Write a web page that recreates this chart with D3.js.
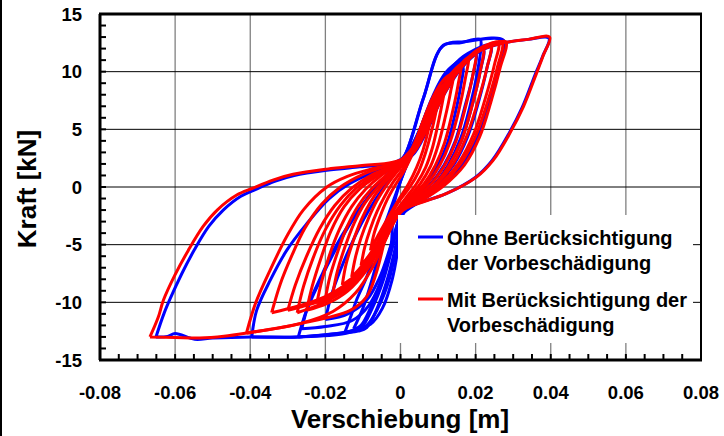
<!DOCTYPE html>
<html>
<head>
<meta charset="utf-8">
<script src="https://cdn.jsdelivr.net/npm/d3@7"></script>
<style>
  body { margin: 0; background: #fff; }
  svg { display: block; font-family: "Liberation Sans", Arial, sans-serif; font-weight: bold; }
</style>
</head>
<body>
<svg id="chart" width="724" height="436"></svg>
<script>
// axis ticks
const xTicks = [-0.08, -0.06, -0.04, -0.02, 0, 0.02, 0.04, 0.06, 0.08];
const xTickLabels = ["-0.08", "-0.06", "-0.04", "-0.02", "0", "0.02", "0.04", "0.06", "0.08"];
const yTicks = [-15, -10, -5, 0, 5, 10, 15];

// blue: ohne Berücksichtigung der Vorbeschädigung  [Verschiebung m, Kraft kN]
const blue1 = [[-0.0651,-13.0],[-0.0630,-11.0],[-0.0612,-9.6],[-0.0582,-7.5],[-0.0548,-5.4],[-0.0510,-3.4],[-0.0472,-2.0],[-0.0425,-0.8],[-0.0385,-0.2],[-0.0335,0.5],[-0.0283,1.0],[-0.0196,1.45],[-0.0108,1.75],[-0.0020,2.05],[0.0030,2.7],[0.0072,5.0],[0.0112,7.8],[0.0162,10.3],[0.0212,11.8],[0.0277,12.5],[0.0340,12.8],[0.0395,12.9],[0.0378,11.3],[0.0359,9.8],[0.0324,6.9],[0.0288,4.6],[0.0244,2.3],[0.0200,0.85],[0.0120,-0.6],[0.0032,-1.6],[-0.0015,-2.6],[-0.0025,-5.0],[-0.0050,-8.0],[-0.0080,-10.5],[-0.0105,-12.0],[-0.0125,-12.4],[-0.0148,-12.6],[-0.0272,-13.0],[-0.0396,-13.0],[-0.0500,-13.1],[-0.0548,-13.2],[-0.0600,-12.7],[-0.0620,-12.95],[-0.0651,-13.0]];
const blue2 = [[-0.0396,-13.0],[-0.0383,-10.7],[-0.0347,-8.1],[-0.0303,-5.5],[-0.0250,-3.2],[-0.0190,-1.0],[-0.0135,0.3],[-0.0070,1.3],[-0.0005,2.3],[0.0009,2.6],[0.0060,7.6],[0.0114,12.3],[0.0160,12.5],[0.0212,12.8],[0.0214,12.1],[0.0205,10.0],[0.0185,7.0],[0.0160,4.2],[0.0125,1.8],[0.0085,0.0],[0.0040,-1.3],[0.0000,-2.5],[-0.0020,-5.0],[-0.0045,-8.0],[-0.0075,-10.5],[-0.0105,-12.2],[-0.0148,-12.7],[-0.0272,-13.0],[-0.0396,-13.0]];
const blue3 = [[-0.0272,-13.0],[-0.0250,-10.7],[-0.0214,-8.1],[-0.0179,-5.8],[-0.0140,-3.5],[-0.0100,-1.5],[-0.0060,0.2],[-0.0020,1.6],[0.0012,2.8],[0.0062,7.8],[0.0112,12.2],[0.0170,12.6],[0.0275,12.7],[0.0262,10.4],[0.0237,7.4],[0.0205,4.4],[0.0165,2.0],[0.0110,0.1],[0.0050,-1.3],[0.0005,-2.4],[-0.0012,-5.0],[-0.0035,-8.0],[-0.0062,-10.5],[-0.0090,-12.2],[-0.0113,-12.5],[-0.0200,-12.8],[-0.0272,-13.0]];
const blue4 = [[-0.0263,-12.3],[-0.0245,-10.2],[-0.0212,-7.8],[-0.0175,-5.3],[-0.0135,-3.1],[-0.0095,-1.3],[-0.0055,0.3],[-0.0015,1.7],[0.0020,3.0],[0.0060,5.6],[0.0100,8.5],[0.0140,10.5],[0.0180,11.6],[0.0240,12.3],[0.0230,10.3],[0.0207,7.3],[0.0178,4.3],[0.0143,2.0],[0.0098,0.2],[0.0048,-1.1],[0.0003,-2.3],[-0.0020,-5.0],[-0.0050,-8.0],[-0.0085,-10.3],[-0.0130,-11.6],[-0.0200,-12.1],[-0.0263,-12.3]];
const blue5 = [[-0.0148,-12.6],[-0.0130,-11.0],[-0.0117,-9.8],[-0.0090,-7.8],[-0.0065,-5.5],[-0.0042,-3.3],[-0.0020,-1.3],[0.0000,0.5],[0.0020,2.2],[0.0050,4.8],[0.0085,7.8],[0.0120,9.9],[0.0160,11.0],[0.0200,11.6],[0.0192,9.6],[0.0170,6.8],[0.0146,4.0],[0.0116,1.9],[0.0078,0.2],[0.0035,-1.0],[0.0005,-2.3],[-0.0010,-5.0],[-0.0030,-8.0],[-0.0060,-10.5],[-0.0090,-12.0],[-0.0120,-12.4],[-0.0148,-12.6]];
const blue6 = [[-0.0125,-12.3],[-0.0100,-10.5],[-0.0080,-8.5],[-0.0060,-6.2],[-0.0040,-4.0],[-0.0022,-2.0],[-0.0005,0.0],[0.0015,1.8],[0.0040,3.8],[0.0070,6.5],[0.0100,8.5],[0.0130,9.7],[0.0165,10.5],[0.0160,8.7],[0.0145,6.3],[0.0125,3.8],[0.0100,1.9],[0.0068,0.3],[0.0030,-1.0],[0.0005,-2.5],[-0.0005,-5.0],[-0.0022,-8.0],[-0.0048,-10.5],[-0.0080,-11.9],[-0.0125,-12.3]];
const blue7 = [[-0.0200,-11.5],[-0.0185,-9.5],[-0.0160,-7.2],[-0.0130,-4.9],[-0.0098,-2.8],[-0.0065,-1.0],[-0.0030,0.6],[0.0005,2.0],[0.0045,4.5],[0.0085,7.6],[0.0125,9.8],[0.0165,11.0],[0.0220,12.0],[0.0212,10.0],[0.0190,7.0],[0.0162,4.0],[0.0128,1.8],[0.0088,0.1],[0.0040,-1.1],[0.0002,-2.4],[-0.0025,-5.0],[-0.0055,-7.8],[-0.0090,-9.8],[-0.0140,-11.0],[-0.0200,-11.5]];

// red: mit Berücksichtigung der Vorbeschädigung
const red1 = [[-0.0667,-13.0],[-0.0645,-11.3],[-0.0631,-9.8],[-0.0600,-7.6],[-0.0565,-5.5],[-0.0525,-3.4],[-0.0488,-2.0],[-0.0436,-0.7],[-0.0393,-0.1],[-0.0340,0.6],[-0.0286,1.1],[-0.0196,1.55],[-0.0108,1.85],[-0.0020,2.15],[0.0030,2.8],[0.0070,5.0],[0.0110,7.8],[0.0160,10.3],[0.0210,11.8],[0.0275,12.5],[0.0340,12.8],[0.0397,13.0],[0.0380,11.4],[0.0362,9.85],[0.0327,6.95],[0.0291,4.65],[0.0247,2.33],[0.0203,0.88],[0.0123,-0.56],[0.0034,-1.58],[-0.0027,-2.45],[-0.0045,-5.0],[-0.0065,-7.5],[-0.0090,-9.5],[-0.0134,-10.7],[-0.0268,-11.85],[-0.0410,-12.67],[-0.0470,-12.95],[-0.0534,-13.1],[-0.0600,-13.05],[-0.0667,-13.0]];
const red2 = [[-0.0410,-12.65],[-0.0385,-10.0],[-0.0347,-7.2],[-0.0303,-4.3],[-0.0259,-2.0],[-0.0196,0.0],[-0.0143,0.9],[-0.0073,1.6],[-0.0010,2.1],[0.0035,3.5],[0.0080,6.2],[0.0125,8.9],[0.0170,10.8],[0.0220,12.0],[0.0280,12.6],[0.0265,10.3],[0.0240,7.3],[0.0210,4.3],[0.0170,1.9],[0.0115,0.1],[0.0055,-1.2],[-0.0005,-2.3],[-0.0040,-4.6],[-0.0075,-7.0],[-0.0120,-9.2],[-0.0180,-10.8],[-0.0268,-11.85],[-0.0410,-12.65]];
const red3 = [[-0.0343,-10.9],[-0.0320,-8.4],[-0.0290,-6.0],[-0.0255,-3.6],[-0.0210,-1.5],[-0.0160,0.0],[-0.0100,1.1],[-0.0040,1.8],[0.0010,2.4],[0.0055,4.6],[0.0100,7.4],[0.0145,9.8],[0.0200,11.7],[0.0260,12.5],[0.0250,10.6],[0.0225,7.6],[0.0195,4.6],[0.0155,2.1],[0.0105,0.2],[0.0050,-1.1],[0.0000,-2.2],[-0.0040,-4.3],[-0.0085,-6.4],[-0.0140,-8.3],[-0.0200,-9.5],[-0.0270,-10.3],[-0.0343,-10.9]];
const red4 = [[-0.0300,-10.7],[-0.0280,-8.5],[-0.0250,-6.0],[-0.0215,-3.6],[-0.0175,-1.6],[-0.0130,-0.1],[-0.0080,1.0],[-0.0030,1.7],[0.0015,2.4],[0.0065,5.0],[0.0110,7.9],[0.0155,10.2],[0.0200,11.7],[0.0240,12.3],[0.0230,10.3],[0.0205,7.3],[0.0175,4.3],[0.0140,2.0],[0.0095,0.2],[0.0045,-1.1],[0.0000,-2.1],[-0.0040,-4.4],[-0.0090,-6.7],[-0.0145,-8.6],[-0.0200,-9.7],[-0.0255,-10.3],[-0.0300,-10.7]];
const red5 = [[-0.0250,-10.7],[-0.0235,-8.6],[-0.0212,-6.2],[-0.0185,-3.8],[-0.0150,-1.7],[-0.0110,-0.2],[-0.0065,0.9],[-0.0020,1.7],[0.0020,2.5],[0.0070,5.2],[0.0115,8.2],[0.0155,10.3],[0.0190,11.4],[0.0220,12.0],[0.0212,10.0],[0.0190,7.0],[0.0162,4.0],[0.0128,1.8],[0.0088,0.1],[0.0040,-1.1],[-0.0005,-2.2],[-0.0045,-4.8],[-0.0090,-7.2],[-0.0140,-9.0],[-0.0195,-10.1],[-0.0250,-10.7]];
const red6 = [[-0.0223,-10.1],[-0.0210,-8.2],[-0.0190,-6.0],[-0.0163,-3.7],[-0.0130,-1.7],[-0.0093,-0.2],[-0.0055,0.9],[-0.0015,1.8],[0.0025,2.7],[0.0075,5.4],[0.0115,8.0],[0.0150,9.9],[0.0178,11.0],[0.0200,11.6],[0.0192,9.6],[0.0172,6.8],[0.0148,4.0],[0.0118,1.9],[0.0080,0.2],[0.0035,-1.0],[-0.0010,-2.3],[-0.0050,-4.9],[-0.0095,-7.2],[-0.0145,-8.8],[-0.0190,-9.6],[-0.0223,-10.1]];
const red7 = [[-0.0200,-9.7],[-0.0188,-7.8],[-0.0168,-5.7],[-0.0143,-3.5],[-0.0112,-1.6],[-0.0078,-0.2],[-0.0042,0.9],[-0.0005,1.9],[0.0030,3.0],[0.0072,5.6],[0.0108,8.0],[0.0138,9.7],[0.0162,10.7],[0.0180,11.2],[0.0172,9.3],[0.0155,6.6],[0.0132,3.9],[0.0105,1.9],[0.0072,0.3],[0.0030,-1.0],[-0.0012,-2.4],[-0.0052,-5.0],[-0.0095,-7.2],[-0.0140,-8.6],[-0.0175,-9.3],[-0.0200,-9.7]];
const red8 = [[-0.0180,-9.2],[-0.0168,-7.3],[-0.0148,-5.2],[-0.0123,-3.1],[-0.0095,-1.4],[-0.0063,-0.1],[-0.0030,1.0],[0.0005,2.0],[0.0035,3.4],[0.0068,5.7],[0.0098,7.8],[0.0125,9.4],[0.0145,10.2],[0.0160,10.6],[0.0153,8.8],[0.0137,6.3],[0.0117,3.8],[0.0093,1.9],[0.0063,0.3],[0.0025,-1.0],[-0.0015,-2.5],[-0.0055,-5.0],[-0.0095,-7.0],[-0.0135,-8.3],[-0.0180,-9.2]];
const red9 = [[-0.0155,-8.5],[-0.0145,-6.7],[-0.0127,-4.8],[-0.0105,-2.9],[-0.0080,-1.3],[-0.0052,0.0],[-0.0022,1.1],[0.0010,2.2],[0.0038,3.8],[0.0062,5.9],[0.0085,7.7],[0.0108,9.0],[0.0125,9.6],[0.0140,9.8],[0.0133,8.2],[0.0118,5.9],[0.0100,3.6],[0.0080,1.8],[0.0053,0.3],[0.0020,-1.0],[-0.0018,-2.6],[-0.0055,-4.9],[-0.0090,-6.6],[-0.0125,-7.8],[-0.0155,-8.5]];
const red10 = [[-0.0130,-7.8],[-0.0120,-6.1],[-0.0105,-4.4],[-0.0085,-2.7],[-0.0063,-1.2],[-0.0038,0.1],[-0.0010,1.3],[0.0015,2.3],[0.0040,4.0],[0.0062,5.8],[0.0083,7.3],[0.0102,8.4],[0.0120,9.0],[0.0113,7.6],[0.0100,5.5],[0.0085,3.4],[0.0067,1.7],[0.0043,0.3],[0.0013,-1.0],[-0.0020,-2.5],[-0.0055,-4.6],[-0.0088,-6.2],[-0.0112,-7.2],[-0.0130,-7.8]];
const red11 = [[-0.0105,-6.8],[-0.0095,-5.2],[-0.0080,-3.6],[-0.0062,-2.1],[-0.0042,-0.8],[-0.0020,0.4],[0.0005,1.5],[0.0025,2.6],[0.0045,4.1],[0.0065,5.6],[0.0085,6.9],[0.0100,7.6],[0.0093,6.3],[0.0080,4.5],[0.0065,2.8],[0.0048,1.3],[0.0025,0.0],[-0.0005,-1.3],[-0.0035,-3.0],[-0.0062,-4.8],[-0.0085,-6.0],[-0.0105,-6.8]];
const red12 = [[-0.0080,-5.5],[-0.0070,-4.0],[-0.0055,-2.6],[-0.0037,-1.2],[-0.0015,0.1],[0.0008,1.3],[0.0028,2.6],[0.0048,4.0],[0.0065,5.2],[0.0080,6.0],[0.0073,4.8],[0.0060,3.2],[0.0043,1.7],[0.0022,0.3],[-0.0005,-1.1],[-0.0032,-2.6],[-0.0058,-4.1],[-0.0080,-5.5]];
const red13 = [[-0.0275,-10.9],[-0.0258,-8.6],[-0.0232,-6.1],[-0.0200,-3.7],[-0.0160,-1.6],[-0.0118,-0.1],[-0.0070,1.0],[-0.0025,1.8],[0.0018,2.6],[0.0060,5.0],[0.0105,7.9],[0.0150,10.1],[0.0205,11.9],[0.0270,12.55],[0.0258,10.4],[0.0232,7.4],[0.0200,4.4],[0.0160,2.0],[0.0110,0.2],[0.0052,-1.1],[0.0000,-2.2],[-0.0042,-4.6],[-0.0090,-7.0],[-0.0145,-8.9],[-0.0210,-10.1],[-0.0275,-10.9]];

const blueLoops = [blue1, blue2, blue3, blue4, blue5, blue6, blue7];
const redLoops = [red1, red2, red3, red13, red4, red5, red6, red7, red8, red9, red10, red11, red12];

const legendItems = [
  { color: "#0000ff", lines: ["Ohne Berücksichtigung", "der Vorbeschädigung"] },
  { color: "#ff0000", lines: ["Mit Berücksichtigung der", "Vorbeschädigung"] },
];

const svg = d3.select("#chart");
const plot = { left: 100, right: 701, top: 14, bottom: 360 };

const x = d3.scaleLinear().domain([-0.08, 0.08]).range([plot.left, plot.right]);
const y = d3.scaleLinear().domain([-15, 15]).range([plot.bottom, plot.top]);

// outer frame line on the left of the picture
svg.append("line")
  .attr("x1", 1).attr("x2", 1).attr("y1", 0).attr("y2", 436)
  .attr("stroke", "#000").attr("stroke-width", 2);

svg.append("defs").append("clipPath").attr("id", "clip")
  .append("rect")
  .attr("x", plot.left).attr("y", plot.top)
  .attr("width", plot.right - plot.left).attr("height", plot.bottom - plot.top);

// grid
svg.append("g").selectAll("line")
  .data(xTicks.slice(1, -1))
  .enter().append("line")
  .attr("x1", d => x(d)).attr("x2", d => x(d))
  .attr("y1", plot.top).attr("y2", plot.bottom)
  .attr("stroke", "#808080").attr("stroke-width", 1.3);

svg.append("g").selectAll("line")
  .data(yTicks.slice(1, -1))
  .enter().append("line")
  .attr("x1", plot.left).attr("x2", plot.right)
  .attr("y1", d => y(d)).attr("y2", d => y(d))
  .attr("stroke", "#000").attr("stroke-width", 1);

// minor ticks (inside)
svg.append("g").selectAll("line")
  .data(d3.range(-15, 15.01, 1))
  .enter().append("line")
  .attr("x1", plot.left).attr("x2", plot.left + 6)
  .attr("y1", d => y(d)).attr("y2", d => y(d))
  .attr("stroke", "#000").attr("stroke-width", 2);

svg.append("g").selectAll("line")
  .data(d3.range(-0.08, 0.0801, 0.005))
  .enter().append("line")
  .attr("x1", d => x(d)).attr("x2", d => x(d))
  .attr("y1", plot.bottom).attr("y2", plot.bottom - 6)
  .attr("stroke", "#000").attr("stroke-width", 2);

// curves
const line = d3.line()
  .x(d => x(d[0]))
  .y(d => y(d[1]))
  .curve(d3.curveCatmullRom.alpha(0.5));

const curves = svg.append("g").attr("clip-path", "url(#clip)");

curves.selectAll(".blue")
  .data(blueLoops)
  .enter().append("path")
  .attr("class", "blue")
  .attr("d", line)
  .attr("fill", "none")
  .attr("stroke", "#0000ff")
  .attr("stroke-width", 3)
  .attr("stroke-linejoin", "round");

curves.selectAll(".red")
  .data(redLoops)
  .enter().append("path")
  .attr("class", "red")
  .attr("d", line)
  .attr("fill", "none")
  .attr("stroke", "#ff0000")
  .attr("stroke-width", 3)
  .attr("stroke-linejoin", "round");

// frame
svg.append("line")
  .attr("x1", plot.left - 1).attr("x2", plot.right + 1)
  .attr("y1", plot.top).attr("y2", plot.top)
  .attr("stroke", "#000").attr("stroke-width", 3);
svg.append("line")
  .attr("x1", plot.left - 1).attr("x2", plot.right + 1)
  .attr("y1", plot.bottom).attr("y2", plot.bottom)
  .attr("stroke", "#000").attr("stroke-width", 3);
svg.append("line")
  .attr("x1", plot.left).attr("x2", plot.left)
  .attr("y1", plot.top).attr("y2", plot.bottom)
  .attr("stroke", "#000").attr("stroke-width", 3);
svg.append("line")
  .attr("x1", plot.right).attr("x2", plot.right)
  .attr("y1", plot.top).attr("y2", plot.bottom)
  .attr("stroke", "#000").attr("stroke-width", 2);

// tick labels
svg.append("g").selectAll("text")
  .data(yTicks)
  .enter().append("text")
  .attr("x", 82)
  .attr("y", d => y(d))
  .attr("dy", "0.36em")
  .attr("text-anchor", "end")
  .attr("font-size", 18.5)
  .text(d => d);

svg.append("g").selectAll("text")
  .data(xTicks)
  .enter().append("text")
  .attr("x", d => x(d))
  .attr("y", 399)
  .attr("text-anchor", "middle")
  .attr("font-size", 18.5)
  .text((d, i) => xTickLabels[i]);

// axis titles
svg.append("text")
  .attr("x", 400).attr("y", 428)
  .attr("text-anchor", "middle")
  .attr("font-size", 26)
  .text("Verschiebung [m]");

svg.append("text")
  .attr("transform", "translate(36,189) rotate(-90)")
  .attr("text-anchor", "middle")
  .attr("font-size", 26)
  .text("Kraft [kN]");

// legend
const legend = svg.append("g");
legend.append("rect")
  .attr("x", 398).attr("y", 215)
  .attr("width", 295).attr("height", 128)
  .attr("fill", "#fff");

legendItems.forEach((item, i) => {
  const top = 237 + i * 62;
  legend.append("line")
    .attr("x1", 418).attr("x2", 443)
    .attr("y1", top).attr("y2", top)
    .attr("stroke", item.color).attr("stroke-width", 3);
  item.lines.forEach((t, j) => {
    legend.append("text")
      .attr("x", 447)
      .attr("y", top + 8 + j * 25)
      .attr("font-size", 20)
      .text(t);
  });
});
</script>
</body>
</html>
